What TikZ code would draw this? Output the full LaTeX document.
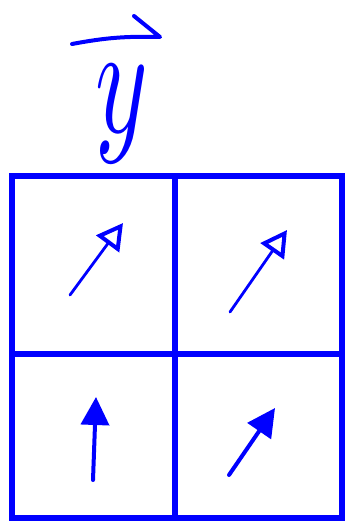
\documentclass[tikz,border=0pt]{standalone}
\usepackage{amsmath,amssymb}
\usepackage{graphicx}
\usetikzlibrary{arrows.meta,calc}

\begin{document}
\begin{tikzpicture}[x=1pt, y=-1pt, >=Stealth,
    gridline/.style={blue, line width=5.5pt, line cap=round},
    spin/.style={blue, line width=2.8pt, line cap=round,
        -{Triangle[open, length=26pt, width=28pt, line width=4pt]}},
    spinfull/.style={blue, line width=4pt, line cap=round,
        -{Triangle[length=28pt, width=28pt]}}]
    \useasboundingbox (0,0) rectangle (349,522);

    % --- Vector symbol on top ---
    \node[blue, inner sep=0, anchor=base] (ysym) at (122,132) {\scalebox{10}[15.7]{$y$}};
    \coordinate (vstart) at (72,44);
    \coordinate (vend) at (160,37);
    \coordinate (vbarb) at (134,16);
    \draw[blue, line width=4pt, line cap=round, line join=round]
        (vstart) to[bend left=6] (vend) -- (vbarb);

    % --- Grid of cells ---
    \coordinate (tl) at (12,176);
    \coordinate (br) at (342,518);
    \draw[gridline] (tl) rectangle (br);
    \draw[gridline] (175,176) -- (175,518);
    \draw[gridline] (12,354) -- (342,354);

    % --- Arrows in the cells ---
    \draw[spin] (70,295) -- (123,223);
    \draw[spin] (230,312) -- (287,230);
    \draw[spinfull] (93,480) -- (96,397);
    \draw[spinfull] (229,475) -- (275,408);
\end{tikzpicture}
\end{document}
